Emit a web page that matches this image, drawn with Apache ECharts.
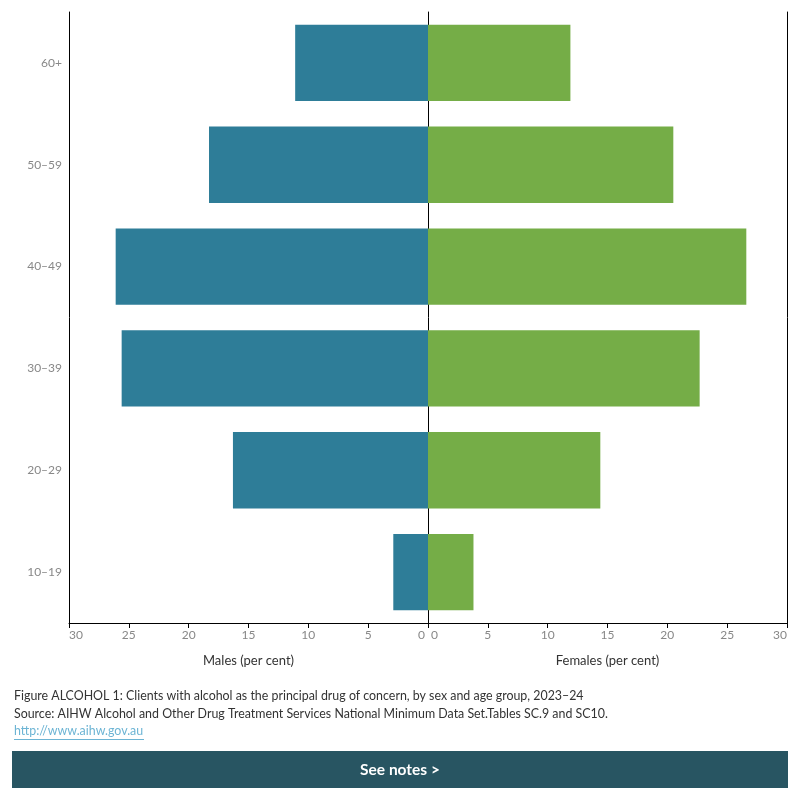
<!DOCTYPE html>
<html lang="en">
  <head>
    <meta charset="UTF-8" />
    <title>Alcohol clients by sex and age</title>
    <script src="https://cdn.jsdelivr.net/npm/echarts@6/dist/echarts.min.js"></script>
    <style>
      body { margin: 0; }
      #main { width: 800px; height: 800px; }
    </style>
  </head>
  <body>
    <div id="main"></div>
    <script>
      const ageGroups = ['10–19', '20–29', '30–39', '40–49', '50–59', '60+']
      const males = [2.9, 16.3, 25.6, 26.1, 18.3, 11.1]
      const females = [3.8, 14.4, 22.7, 26.6, 20.5, 11.9]
      const ticks = { min: 0, max: 30, interval: 5 }

      const font = 'Lato, "Noto Sans", sans-serif'
      const myChart = echarts.init(document.getElementById('main'))

      const axisCommon = {
        type: 'value',
        min: ticks.min,
        max: ticks.max,
        interval: ticks.interval,
        splitLine: { show: false },
        axisLine: { show: true, onZero: false, lineStyle: { color: '#000', width: 1 } },
        axisTick: { show: true, length: 5, lineStyle: { color: '#000' } },
        axisLabel: { color: '#888', fontSize: 12, fontFamily: font, margin: 6 },
        nameLocation: 'middle',
        nameGap: 31,
        nameTextStyle: { color: '#333', fontSize: 13, fontFamily: font }
      }

      const option = {
        animation: false,
        grid: [
          { left: 69, right: 372, top: 12, bottom: 177 },
          { left: 428, right: 13, top: 12, bottom: 177 }
        ],
        xAxis: [
          Object.assign({}, axisCommon, {
            gridIndex: 0,
            inverse: true,
            name: 'Males (per cent)',
            axisLabel: Object.assign({}, axisCommon.axisLabel, {
              alignMinLabel: 'right', alignMaxLabel: 'left',
              formatter: (v) => (v === 0 ? '0 ' : String(v))
            })
          }),
          Object.assign({}, axisCommon, {
            gridIndex: 1,
            name: 'Females (per cent)',
            axisLabel: Object.assign({}, axisCommon.axisLabel, {
              alignMinLabel: 'left', alignMaxLabel: 'right',
              formatter: (v) => (v === 0 ? ' 0' : String(v))
            })
          })
        ],
        yAxis: [
          {
            type: 'category', gridIndex: 0, data: ageGroups, position: 'left',
            axisLine: { show: true, onZero: false, lineStyle: { color: '#000' } },
            axisTick: { show: false },
            axisLabel: { color: '#888', fontSize: 12, fontFamily: font, margin: 7 }
          },
          {
            type: 'category', gridIndex: 1, data: ageGroups, position: 'left',
            axisLine: { show: true, onZero: false, lineStyle: { color: '#000' } },
            axisTick: { show: false },
            axisLabel: { show: false }
          },
          {
            type: 'category', gridIndex: 1, data: ageGroups, position: 'right',
            axisLine: { show: true, onZero: false, lineStyle: { color: '#000' } },
            axisTick: { show: false },
            axisLabel: { show: false }
          }
        ],
        series: [
          {
            name: 'Males', type: 'bar', xAxisIndex: 0, yAxisIndex: 0,
            data: males, barCategoryGap: '25%',
            itemStyle: { color: '#2e7d98' }
          },
          {
            name: 'Females', type: 'bar', xAxisIndex: 1, yAxisIndex: 1,
            data: females, barCategoryGap: '25%',
            itemStyle: { color: '#75ad47' }
          }
        ],
        graphic: [
          {
            type: 'text', left: 14, top: 690,
            style: { text: 'Figure ALCOHOL 1: Clients with alcohol as the principal drug of concern, by sex and age group, 2023–24', fill: '#333', font: '12.4px ' + font }
          },
          {
            type: 'text', left: 14, top: 708,
            style: { text: 'Source: AIHW Alcohol and Other Drug Treatment Services National Minimum Data Set.Tables SC.9 and SC10.', fill: '#333', font: '12.4px ' + font }
          },
          {
            type: 'text', left: 14, top: 725,
            style: { text: 'http://www.aihw.gov.au', fill: '#6cb4d4', font: '12.4px ' + font }
          },
          {
            type: 'line', shape: { x1: 14, y1: 739.5, x2: 144, y2: 739.5 },
            style: { stroke: '#6cb4d4', lineWidth: 1 }
          },
          {
            type: 'rect', shape: { x: 12, y: 751, width: 776, height: 37 },
            style: { fill: '#285562' }
          },
          {
            type: 'text', x: 400, y: 769.5,
            style: { text: 'See notes >', fill: '#fff', font: 'bold 15.5px ' + font, align: 'center', verticalAlign: 'middle' }
          }
        ]
      }

      myChart.setOption(option)
    </script>
  </body>
</html>
